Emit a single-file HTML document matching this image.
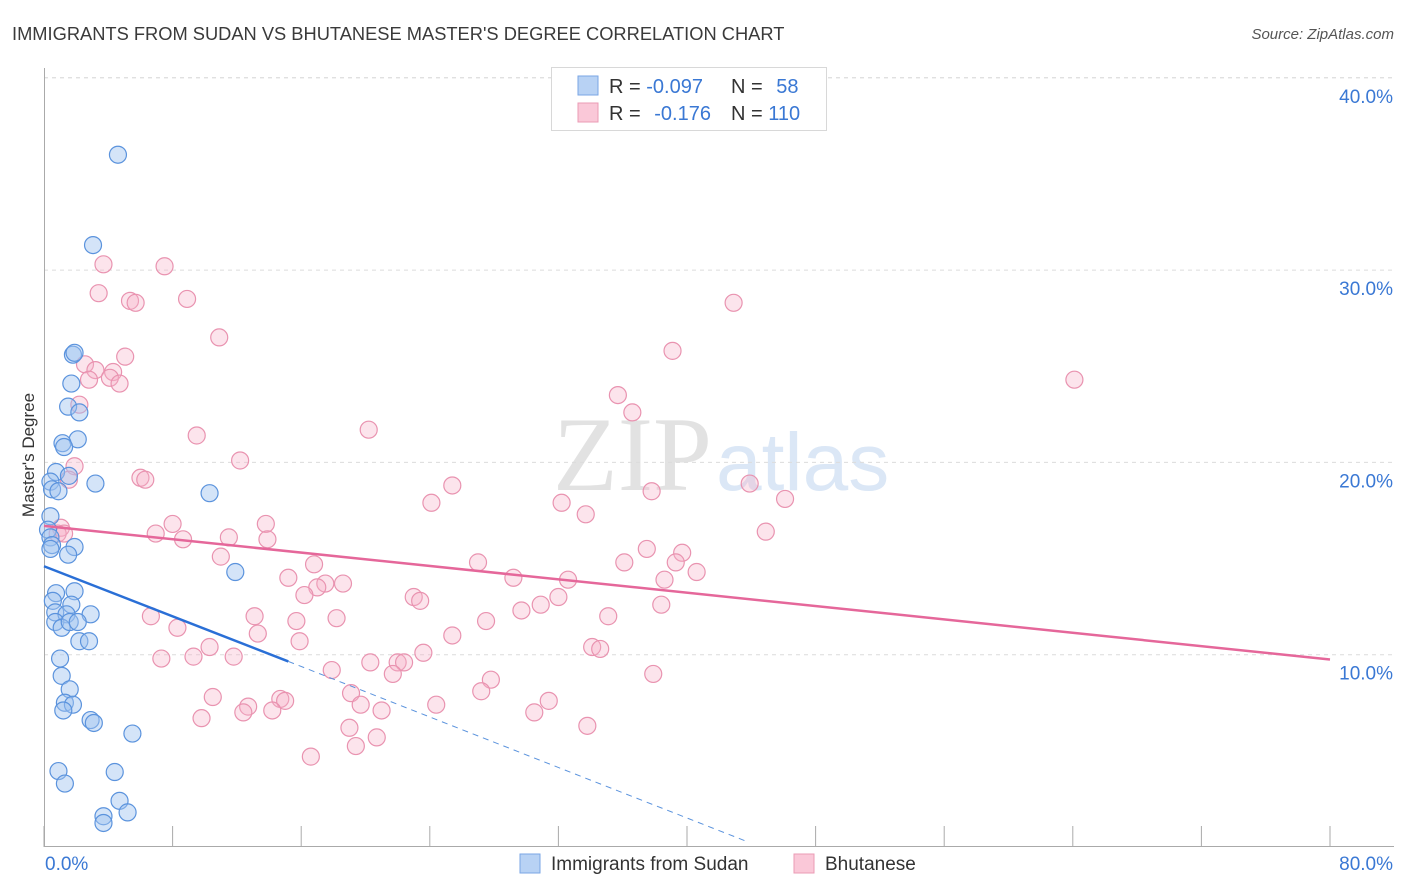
<!DOCTYPE html>
<html><head><meta charset="utf-8"><style>
body{margin:0;background:#fff;font-family:"Liberation Sans",sans-serif}
svg{display:block}
</style></head><body>
<svg id="chart" width="1406" height="892" viewBox="0 0 1406 892" xmlns="http://www.w3.org/2000/svg">
<text x="12" y="40" font-size="18.3" fill="#3a3a3a">IMMIGRANTS FROM SUDAN VS BHUTANESE MASTER'S DEGREE CORRELATION CHART</text>
<text x="1394" y="39" font-size="15" fill="#555" font-style="italic" text-anchor="end">Source: ZipAtlas.com</text>
<g>
<text x="553" y="490" font-family="Liberation Serif,serif" font-size="106" fill="#e2e2e2">ZIP</text>
<text x="716" y="490" font-size="82" fill="#dbe7f6">atlas</text>
</g>
<g id="grid"></g>
<g id="axes"></g>
<g id="pts"></g>
<g id="lines"></g>
<text x="34" y="455" font-size="17" fill="#333" text-anchor="middle" transform="rotate(-90 34 455)">Master's Degree</text>
<g>
<rect x="551.5" y="67.5" width="275" height="63" fill="#fff" stroke="#d8d8d8"/>
<rect x="578" y="76" width="20" height="19" fill="#b8d2f4" stroke="#7aa6e4"/>
<rect x="578" y="103" width="20" height="19" fill="#fac8d8" stroke="#eb9bb5"/>
<text x="609" y="93" font-size="20" fill="#333">R = <tspan fill="#3a78d4">-0.097</tspan></text>
<text x="731" y="93" font-size="20" fill="#333">N = <tspan fill="#3a78d4" dx="8">58</tspan></text>
<text x="609" y="120" font-size="20" fill="#333">R = <tspan fill="#3a78d4" dx="8">-0.176</tspan></text>
<text x="731" y="120" font-size="20" fill="#333">N = <tspan fill="#3a78d4">110</tspan></text>
</g>
<g>
<rect x="520" y="854" width="20" height="19" fill="#b8d2f4" stroke="#7aa6e4"/>
<text x="551" y="870" font-size="19" fill="#333">Immigrants from Sudan</text>
<rect x="794" y="854" width="20" height="19" fill="#fac8d8" stroke="#eb9bb5"/>
<text x="825" y="870" font-size="19" fill="#333">Bhutanese</text>
</g>
</svg>
<script>
const yTicks=[10,20,30,40];
const yTickLabels=["10.0%","20.0%","30.0%","40.0%"];
const xTicks=[0,8,16,24,32,40,48,56,64,72,80];
const xEndLabels=["0.0%","80.0%"];
const sudanX=[4.6,3.05,1.8,1.9,1.7,1.5,2.2,2.1,1.15,1.25,0.75,1.55,0.4,0.5,0.9,3.2,10.3,0.4,0.25,0.4,0.5,0.4,1.9,1.5,11.9,0.75,1.9,0.55,1.7,0.7,1.4,2.9,0.7,1.1,1.6,2.1,2.2,2.8,1.0,1.1,1.6,1.3,1.8,1.2,2.9,3.1,5.5,0.9,1.3,4.4,4.7,3.7,5.2,3.7];
const sudanY=[36.0,31.3,25.6,25.7,24.1,22.9,22.6,21.2,21.0,20.8,19.5,19.3,19.0,18.6,18.5,18.9,18.4,17.2,16.5,16.1,15.7,15.5,15.6,15.2,14.3,13.2,13.3,12.8,12.6,12.2,12.1,12.1,11.7,11.4,11.7,11.7,10.7,10.7,9.8,8.9,8.2,7.5,7.4,7.1,6.6,6.45,5.9,3.95,3.3,3.9,2.4,1.6,1.8,1.25];
const bhuX=[3.7,7.5,3.4,5.35,5.7,8.9,42.9,10.9,39.1,5.05,2.55,3.2,4.3,2.8,4.1,4.7,64.1,35.7,2.2,36.6,20.2,9.5,12.2,1.9,1.55,6.0,6.3,25.4,43.9,37.8,46.1,24.1,32.2,33.7,13.8,8.0,1.05,0.85,1.25,44.9,6.95,11.5,8.65,13.9,37.5,39.7,11.0,36.1,27.0,39.3,16.8,40.6,15.2,29.2,32.6,38.6,17.5,18.6,17.0,16.2,23.0,23.4,32.0,30.9,38.4,29.7,6.65,13.1,18.2,15.7,35.1,27.5,8.3,13.3,25.4,15.9,34.1,34.6,10.3,23.6,7.3,9.3,11.8,20.3,22.0,22.4,17.9,21.7,37.9,27.8,19.1,27.2,10.5,14.7,15.0,19.7,24.4,31.4,12.7,12.4,14.2,21.0,30.5,9.8,19.0,33.8,20.7,19.4,16.6];
const bhuY=[30.3,30.2,28.8,28.4,28.3,28.5,28.3,26.5,25.8,25.5,25.1,24.8,24.7,24.3,24.4,24.1,24.3,23.5,23.0,22.6,21.7,21.4,20.1,19.8,19.1,19.2,19.1,18.8,18.9,18.5,18.1,17.9,17.9,17.3,16.8,16.8,16.6,16.3,16.3,16.4,16.3,16.1,16.0,16.0,15.5,15.3,15.1,14.8,14.8,14.8,14.7,14.3,14.0,14.0,13.9,13.9,13.7,13.7,13.5,13.1,13.0,12.8,13.0,12.6,12.6,12.3,12.0,12.0,11.9,11.75,12.0,11.75,11.4,11.1,11.0,10.7,10.4,10.3,10.4,10.1,9.8,9.9,9.9,9.6,9.6,9.6,9.2,9.0,9.0,8.7,8.0,8.1,7.8,7.7,7.6,7.4,7.4,7.6,7.3,7.0,7.1,7.1,7.0,6.7,6.2,6.3,5.7,5.25,4.7];
const sudanTrend=[[0,14.6],[15.2,9.65],[44.8,0]];
const bhuTrend=[[0,16.7],[80,9.75]];
const NS="http://www.w3.org/2000/svg";
const X=v=>44+v*16.075, Y=v=>847-v*19.23;
function mk(t,a,p){const e=document.createElementNS(NS,t);for(const k in a)e.setAttribute(k,a[k]);p.appendChild(e);return e;}
const grid=document.getElementById('grid'),axes=document.getElementById('axes'),pts=document.getElementById('pts'),lines=document.getElementById('lines');
yTicks.forEach((t,i)=>{
 const l=mk('line',{x1:44,x2:1394,y1:Y(t),y2:Y(t),stroke:'#dcdcdc','stroke-dasharray':'4 4'},grid);
 
 
 const tx=mk('text',{x:1393,y:Y(t)+25,'font-size':19,fill:'#3a78d4','text-anchor':'end'},axes);
 tx.textContent=yTickLabels[i];
 
 
});
const topGrid=mk('line',{x1:44,x2:1394,y1:Y(40),y2:Y(40),stroke:'#dcdcdc','stroke-dasharray':'4 4'},grid);


const ya=mk('line',{x1:44.5,x2:44.5,y1:68,y2:847,stroke:'#aaa'},axes);


const xa=mk('line',{x1:44,x2:1394,y1:846.5,y2:846.5,stroke:'#aaa'},axes);


xTicks.forEach(t=>{
 const l=mk('line',{x1:X(t),x2:X(t),y1:826,y2:847,stroke:'#aaa'},axes);
 
 
});
[[0,'start',45],[80,'end',1393]].forEach((d,i)=>{
 const tx=mk('text',{x:d[2],y:870,'font-size':19,fill:'#3a78d4','text-anchor':d[1]},axes);
 tx.textContent=xEndLabels[i];
 
 
});
bhuX.forEach((v,i)=>{
 const c=mk('circle',{cx:X(v),cy:Y(bhuY[i]),r:8.5,fill:'rgba(247,178,201,0.35)',stroke:'#e993b0','stroke-width':1.2},pts);
 
 
});
sudanX.forEach((v,i)=>{
 const c=mk('circle',{cx:X(v),cy:Y(sudanY[i]),r:8.5,fill:'rgba(160,196,240,0.45)',stroke:'#5b93dd','stroke-width':1.2},pts);
 
 
});
const bl=mk('line',{x1:X(bhuTrend[0][0]),y1:Y(bhuTrend[0][1]),x2:X(bhuTrend[1][0]),y2:Y(bhuTrend[1][1]),stroke:'#e5679a','stroke-width':2.5},lines);


const sl=mk('line',{x1:X(sudanTrend[0][0]),y1:Y(sudanTrend[0][1]),x2:X(sudanTrend[1][0]),y2:Y(sudanTrend[1][1]),stroke:'#2a6fd6','stroke-width':2.5},lines);


const sd=mk('line',{x1:X(sudanTrend[1][0]),y1:Y(sudanTrend[1][1]),x2:X(sudanTrend[2][0])-16,y2:Y(sudanTrend[2][1])-5,stroke:'#5b93dd','stroke-width':1,'stroke-dasharray':'6 5'},lines);


</script>
</body></html>
